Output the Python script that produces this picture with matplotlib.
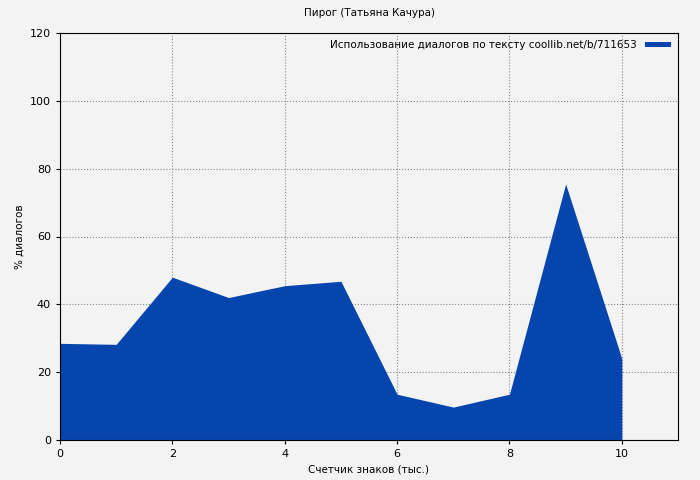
import matplotlib
matplotlib.use('Agg')
import matplotlib.pyplot as plt

x_vals = [0, 1, 2, 3, 4, 5, 6, 7, 8, 9, 10]
dialog_pct = [28.5, 28.2, 48.0, 42.0, 45.5, 46.8, 13.5, 9.7, 13.5, 75.5, 24.0]
x_ticks = [0, 2, 4, 6, 8, 10]
y_ticks = [0, 20, 40, 60, 80, 100, 120]

bg = '#f3f3f3'
fig = plt.figure(figsize=(7, 4.8), dpi=100, facecolor=bg)
ax = fig.add_axes([60 / 700, 40 / 480, 618 / 700, 407 / 480], facecolor=bg)

ax.fill_between(x_vals, dialog_pct, 0, color='#0645ad', linewidth=0,
                label='Использование диалогов по тексту coollib.net/b/711653')

ax.set_xlim(0, 11)
ax.set_ylim(0, 120)
ax.set_xticks(x_ticks)
ax.set_yticks(y_ticks)
ax.tick_params(labelsize=8, direction='out', length=3)
ax.grid(True, color='#888888', linestyle=':', linewidth=0.8)
ax.set_axisbelow(True)

ax.set_title('Пирог (Татьяна Качура)', fontsize=7.5, pad=12)
ax.set_xlabel('Счетчик знаков (тыс.)', fontsize=7.5)
ax.set_ylabel('% диалогов', fontsize=7.5)

leg = ax.legend(loc='upper right', fontsize=7.5, frameon=False,
                handlelength=2.5, handleheight=0.4, markerfirst=False,
                borderaxespad=0.3)

fig.savefig('out.png', dpi=100, facecolor=bg)
